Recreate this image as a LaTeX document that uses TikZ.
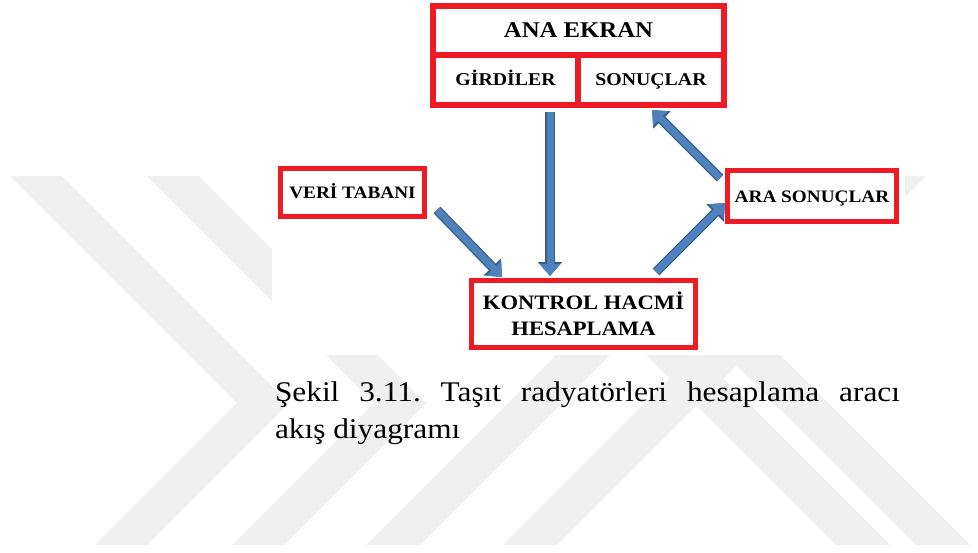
\documentclass[tikz,border=0pt]{standalone}
\usepackage{fontspec}
\setmainfont[FakeStretch=1.1]{Liberation Serif}
\usepackage{tikz}
\usetikzlibrary{positioning,calc,arrows.meta}
\frenchspacing

\definecolor{boxred}{RGB}{237,28,36}
\definecolor{arrowfill}{RGB}{79,129,189}
\definecolor{arrowedge}{RGB}{56,93,138}
\definecolor{markgray}{RGB}{240,240,240}

\begin{document}
\begin{tikzpicture}[x=1pt,y=-1pt,
	every node/.style={inner sep=0pt,outer sep=0pt},
	redbox/.style={draw=boxred,line width=5pt,fill=white,align=center,font=\bfseries\fontsize{17.5}{21}\selectfont},
	oneline/.style={redbox,text height=12pt,text depth=0pt},
	topcell/.style={oneline,line width=6pt,font=\bfseries\fontsize{18}{21}\selectfont},
	flow/.style={draw=arrowfill,line width=7pt,-{Triangle[length=12pt,width=20pt]},
		preaction={draw=arrowedge,line width=9.5pt,-{Triangle[length=14pt,width=23.5pt]}}},
	wmark/.style={fill=markgray}
	]
	\useasboundingbox (0,0) rectangle (978,552);
	
	% the faint watermark
	\fill[wmark] (10,176) -- (62,176) -- (289,403) -- (147,545) -- (95,545) -- (237,403) -- cycle;
	\fill[wmark] (147,176) -- (199,176) -- (426,403) -- (284,545) -- (232,545) -- (374,403) -- cycle;
	\fill[wmark] (366,545) -- (420,545) -- (789,176) -- (735,176) -- cycle;
	\fill[wmark] (503,545) -- (557,545) -- (926,176) -- (872,176) -- cycle;
	\fill[wmark] (467,176) -- (521,176) -- (890,545) -- (836,545) -- cycle;
	\fill[wmark] (547,176) -- (601,176) -- (970,545) -- (916,545) -- cycle;
	\fill[white] (272,0) rectangle (905,355);
	
	% the main screen
	\node[topcell,minimum width=291pt,minimum height=48.5pt,text height=15pt,font=\bfseries\fontsize{22.5}{26}\selectfont] (ana) at (578.5,30.25) {ANA EKRAN};
	\node[topcell,anchor=north west,minimum width=145pt,minimum height=50.5pt] (girdi) at (ana.south west) {GİRDİLER};
	\node[topcell,anchor=north west,minimum width=146pt,minimum height=50.5pt] (sonuc) at (girdi.north east) {SONUÇLAR};
	
	% the other boxes
	\node[oneline,minimum width=144pt,minimum height=48pt] (veri) at (352.5,192.5) {VERİ TABANI};
	\node[oneline,minimum width=169pt,minimum height=51pt] (ara) at (812,196) {ARA SONUÇLAR};
	\node[redbox,minimum width=224pt,minimum height=67pt,font=\bfseries\fontsize{20.5}{26}\selectfont] (kontrol) at (583.5,314) {KONTROL HACMİ\\HESAPLAMA};
	
	% the arrows
	\draw[flow] ($(girdi.south east)+(-28,7)$) -- ($(kontrol.north)+(-33.5,-4.5)$);
	\draw[flow] ($(veri.south east)+(12.5,-6.5)$) -- ($(kontrol.north west)+(30.5,-3.5)$);
	\draw[flow] ($(kontrol.north east)+(-39.5,-8.5)$) -- ($(ara.west)+(-2.5,7)$);
	\draw[flow] ($(ara.north west)+(-7.5,7.5)$) -- ($(sonuc.south)+(1,5)$);
	
	% the caption
	\node[anchor=base west,font=\fontsize{28.5}{36.5}\selectfont] (cap1) at (275,401.7) {\makebox[625pt][s]{Şekil 3.11. Taşıt radyatörleri hesaplama aracı}};
	\node[anchor=base west,font=\fontsize{28.5}{36.5}\selectfont] (cap2) at ($(cap1.base west)+(0,36.5)$) {akış diyagramı};
\end{tikzpicture}
\end{document}
